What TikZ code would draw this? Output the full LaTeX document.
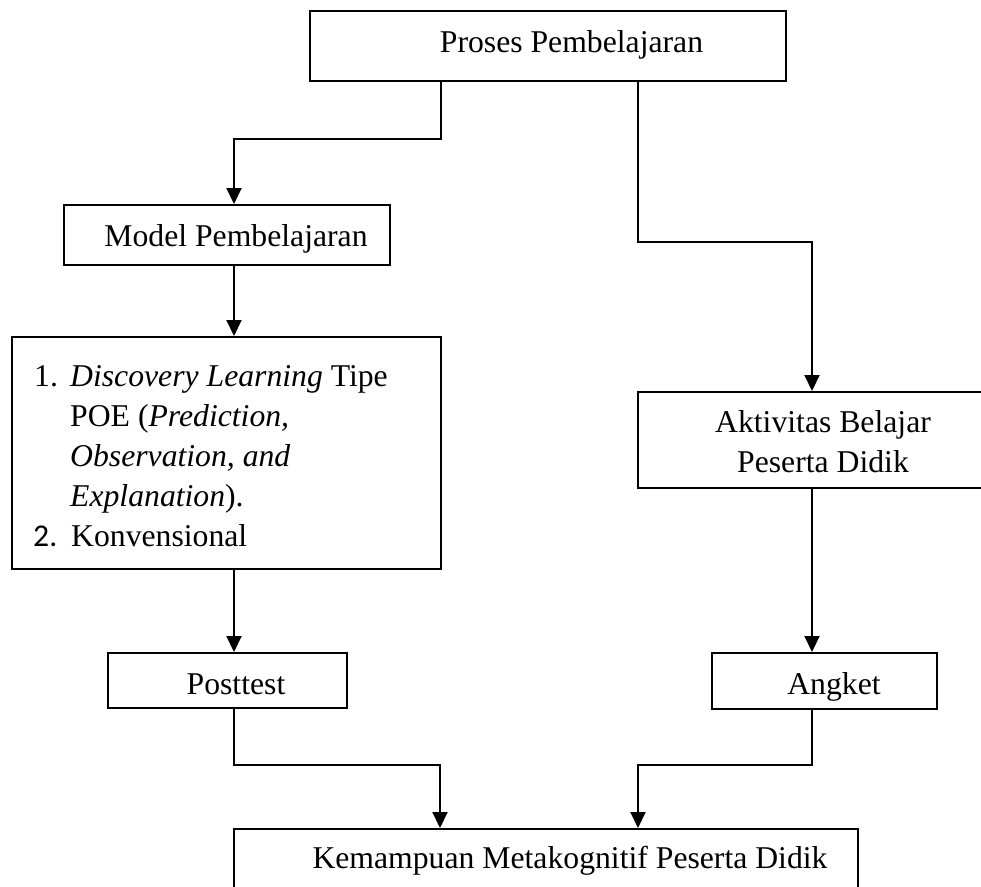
\documentclass[tikz,border=0pt]{standalone}
\usepackage{fontspec}
\setmainfont{Liberation Serif}
\newfontfamily\calibfont{Carlito}
\usetikzlibrary{arrows.meta}
\begin{document}
\begin{tikzpicture}[x=1pt,y=-1pt,
  box/.style={draw, line width=2pt, inner sep=0pt},
  txt/.style={inner sep=0pt, anchor=base, font=\fontsize{31.7}{40}\selectfont},
  ltxt/.style={txt, anchor=base west},
  ln/.style={line width=2pt},
  arr/.style={ln, -{Triangle[length=16pt,width=15pt]}}]
\useasboundingbox (0,0) rectangle (981,886);

% boxes
\node[box, minimum width=476pt, minimum height=70pt] (top) at (548,46) {};
\node[box, minimum width=326pt, minimum height=60pt] (model) at (227,235) {};
\node[box, minimum width=429pt, minimum height=232pt] (list) at (226.5,453) {};
\node[box, minimum width=357pt, minimum height=96pt] (akt) at (816.5,440) {};
\node[box, minimum width=239pt, minimum height=55pt] (post) at (227.5,680.5) {};
\node[box, minimum width=225pt, minimum height=56pt] (ang) at (824.5,681) {};
\node[box, minimum width=624pt, minimum height=76pt] (kem) at (546,867) {};

% texts
\node[txt] (ttop) at (571.5,52) {Proses Pembelajaran};
\node[txt] (tmodel) at (236,246) {Model Pembelajaran};
\node[ltxt] (n1) at (34,386) {1.};
\node[ltxt] (l1) at (70,386) {\textit{Discovery Learning} Tipe};
\node[ltxt] (l2) at (70,426) {POE (\textit{Prediction,}};
\node[ltxt] (l3) at (70,466) {\textit{Observation, and}};
\node[ltxt] (l4) at (70,506) {\textit{Explanation}).};
\node[ltxt] (n2) at (33,546) {\calibfont 2.};
\node[ltxt] (l5) at (71,546) {Konvensional};
\node[txt] (takt1) at (823,432) {Aktivitas Belajar};
\node[txt] (takt2) at (823,472) {Peserta Didik};
\node[txt] (tpost) at (236,694) {Posttest};
\node[txt] (tang) at (834,694) {Angket};
\node[txt] (tkem) at (570,868) {Kemampuan Metakognitif Peserta Didik};

% junctions
\coordinate (j1) at (441,139);
\coordinate (j2) at (234,139);
\coordinate (j3) at (638,242);
\coordinate (j4) at (812,242);
\coordinate (j5) at (234,765);
\coordinate (j6) at (440,765);
\coordinate (j7) at (812,765);
\coordinate (j8) at (638,765);

% connectors
\draw[arr] (top.south -| j1) -- (j1) -- (j2) -- (model.north -| j2);
\draw[arr] (model.south -| j2) -- (list.north -| j2);
\draw[arr] (list.south -| j2) -- (post.north -| j2);
\draw[arr] (top.south -| j3) -- (j3) -- (j4) -- (akt.north -| j4);
\draw[arr] (akt.south -| j4) -- (ang.north -| j4);
\draw[arr] (post.south -| j5) -- (j5) -- (j6) -- (kem.north -| j6);
\draw[arr] (ang.south -| j7) -- (j7) -- (j8) -- (kem.north -| j8);
\end{tikzpicture}
\end{document}
